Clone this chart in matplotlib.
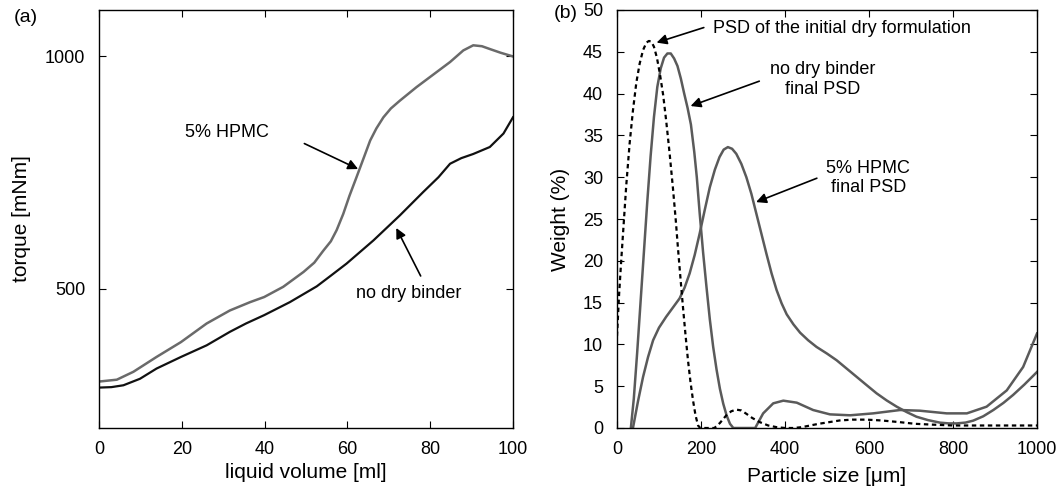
import matplotlib
matplotlib.use("Agg")
import matplotlib.pyplot as plt

plt.rcParams['font.family'] = ['Liberation Sans', 'DejaVu Sans']

# ---------------- Panel (a) data ----------------
vol_binder = [0, 3, 5.9, 9.9, 13.9, 19.8, 26, 31.6, 35.5, 39.9, 46.1, 52.6, 56, 59.8, 66.3, 72.7, 78.3, 82, 84.8, 87.5, 90.4, 94.4, 97.7, 100]
torque_binder = [287, 288, 292, 306, 328, 353, 378, 407, 425, 443, 471, 505, 528, 554, 604, 658, 708, 740, 769, 781, 790, 805, 834, 869]

vol_hpmc = [0, 4.3, 8.3, 13.9, 19.8, 26, 31.6, 36.5, 39.9, 44.5, 49.4, 52, 54.2, 56, 57.4, 59, 60.5, 62.2, 64, 65.5, 67,
            68.7, 70.5, 72.7, 76.7, 80, 84.8, 88, 90.4, 92.5, 94.4, 97, 100]
torque_hpmc = [300, 304, 321, 353, 385, 425, 453, 471, 482, 504, 536, 556, 582, 602, 626, 661, 700, 740, 783, 819, 845,
               869, 888, 905, 934, 956, 988, 1013, 1024, 1022, 1016, 1008, 1000]

# ---------------- Panel (b) data ----------------
size_init = [0, 5, 10, 16, 22, 30, 38, 46, 54, 62, 70, 76, 82, 88, 95, 102, 110, 117, 125, 133, 140, 145, 151, 157, 163,
             169, 175, 181, 187, 193, 198, 232, 245, 260, 272, 284, 296, 308, 322, 340, 360, 380, 400, 420, 440, 460,
             480, 505, 530, 560, 594, 630, 673, 710, 752, 800, 850, 900, 950, 1000]
weight_init = [11, 16, 20, 24.5, 29, 34, 38, 41.3, 43.6, 45.2, 46.1, 46.3, 46.2, 45.6, 44.3, 42.4, 39.8, 36.8, 33, 28.8,
               24.8, 21.6, 18, 14.5, 11.2, 8.1, 5.5, 3.3, 1.5, 0.3, 0, 0, 0.6, 1.5, 2.0, 2.2, 2.1, 1.7, 1.2, 0.7, 0.3,
               0.1, 0, 0, 0.1, 0.3, 0.5, 0.7, 0.9, 1.0, 1.0, 0.9, 0.7, 0.5, 0.4, 0.3, 0.3, 0.3, 0.3, 0.3]

size_nobinder = [33, 40, 48, 56, 64, 72, 80, 88, 96, 104, 112, 120, 128, 136, 144, 152, 160, 168, 176, 184, 190, 197, 205,
                 213, 221, 229, 237, 245, 253, 261, 269, 277, 329, 348, 372, 396, 428, 467, 507, 555, 610, 674, 721, 785,
                 833, 880, 928, 967, 1000]
weight_nobinder = [0, 3.5, 9, 15, 21, 27, 32.5, 37.2, 40.8, 43, 44.3, 44.8, 44.8, 44.2, 43.3, 41.8, 40, 38.3, 36.3, 33,
                   30, 25.6, 21, 16.9, 13, 9.7, 7, 4.7, 2.9, 1.5, 0.5, 0, 0, 1.75, 2.95, 3.27, 3.03, 2.15, 1.63, 1.52,
                   1.75, 2.15, 2.07, 1.75, 1.75, 2.55, 4.5, 7.3, 11.3]

size_hpmc = [38, 50, 62, 74, 86, 100, 117, 133, 149, 161, 173, 185, 197, 209, 221, 233, 244, 254, 264, 274, 284, 296, 308,
             320, 332, 344, 356, 368, 380, 392, 404, 420, 436, 455, 475, 500, 523, 547, 571, 595, 618, 642, 666, 690,
             713, 740, 769, 790, 809, 830, 848, 872, 896, 920, 943, 970, 1000]
weight_hpmc = [0, 3.2, 6.1, 8.5, 10.5, 12, 13.3, 14.4, 15.5, 16.8, 18.5, 20.7, 23.3, 26.1, 28.8, 30.9, 32.4, 33.3, 33.6,
               33.4, 32.8, 31.6, 30, 28, 25.6, 23.2, 20.8, 18.5, 16.5, 14.9, 13.6, 12.4, 11.4, 10.5, 9.7, 8.9, 8.1, 7.1,
               6.1, 5.1, 4.15, 3.3, 2.55, 1.9, 1.35, 0.95, 0.64, 0.55, 0.55, 0.65, 0.88, 1.4, 2.15, 3.0, 3.95, 5.2, 6.7]

a_xticks = [0, 20, 40, 60, 80, 100]
a_yticks = [500, 1000]
b_xticks = [0, 200, 400, 600, 800, 1000]
b_yticks = [0, 5, 10, 15, 20, 25, 30, 35, 40, 45, 50]

W, H = 1059, 492
fig = plt.figure(figsize=(W / 100, H / 100), dpi=100)

def px_axes(l, r, t, b):
    return fig.add_axes([l / W, 1 - b / H, (r - l) / W, (b - t) / H])

ax1 = px_axes(99, 513, 10, 428)
ax2 = px_axes(617, 1037, 10, 428)

FS_TICK = 13
FS_LAB = 15
FS_ANN = 13

for ax in (ax1, ax2):
    ax.tick_params(direction='in', top=True, right=True, length=5, width=0.8,
                   labelsize=FS_TICK)
    ax.tick_params(axis='y', pad=10)
    ax.tick_params(axis='x', pad=9)
    for s in ax.spines.values():
        s.set_linewidth(1.0)

arrow = dict(arrowstyle='-|>', color='black', lw=1.2, mutation_scale=15)

# Panel (a)
ax1.plot(vol_hpmc, torque_hpmc, color='#6a6a6a', lw=1.8)
ax1.plot(vol_binder, torque_binder, color='#111111', lw=1.6)
ax1.set_xlim(0, 100)
ax1.set_ylim(200, 1100)
ax1.set_xticks(a_xticks)
ax1.set_yticks(a_yticks)
ax1.set_xlabel('liquid volume [ml]', fontsize=FS_LAB, va='center')
ax1.set_ylabel('torque [mNm]', fontsize=FS_LAB, va='center')
ax1.xaxis.set_label_coords(0.5, (428 - 473) / 418)
ax1.yaxis.set_label_coords((22 - 99) / 414, 0.5)
ax1.annotate('', xy=(63.2, 755), xytext=(49, 815), arrowprops=arrow)
ax1.text(31, 837, '5% HPMC', fontsize=FS_ANN, ha='center', va='center')
ax1.annotate('', xy=(71.5, 636), xytext=(78, 522), arrowprops=arrow)
ax1.text(74.7, 490, 'no dry binder', fontsize=FS_ANN, ha='center', va='center')
fig.text(26 / W, 1 - 18 / H, '(a)', fontsize=FS_ANN + 1, ha='center', va='center')

# Panel (b)
ax2.plot(size_hpmc, weight_hpmc, color='#5a5a5a', lw=1.8)
ax2.plot(size_nobinder, weight_nobinder, color='#5a5a5a', lw=1.8)
ax2.plot(size_init, weight_init, color='black', lw=1.6, linestyle=(0, (2, 1.6)))
ax2.set_xlim(0, 1000)
ax2.set_ylim(0, 50)
ax2.set_xticks(b_xticks)
ax2.set_yticks(b_yticks)
ax2.set_xlabel('Particle size [\u03bcm]', fontsize=FS_LAB, va='center')
ax2.set_ylabel('Weight (%)', fontsize=FS_LAB, va='center')
ax2.xaxis.set_label_coords(0.5, (428 - 477) / 418)
ax2.yaxis.set_label_coords((561 - 617) / 420, 0.5)
ax2.annotate('', xy=(88, 46), xytext=(213, 48), arrowprops=arrow)
ax2.text(229, 47.8, 'PSD of the initial dry formulation', fontsize=FS_ANN, ha='left', va='center')
ax2.annotate('', xy=(169, 38.4), xytext=(345, 41.6), arrowprops=arrow)
ax2.text(490, 41.7, 'no dry binder\nfinal PSD', fontsize=FS_ANN, ha='center', va='center', linespacing=1.2)
ax2.annotate('', xy=(325, 26.9), xytext=(482, 30), arrowprops=arrow)
ax2.text(598, 29.9, '5% HPMC\nfinal PSD', fontsize=FS_ANN, ha='center', va='center', linespacing=1.2)
fig.text(566 / W, 1 - 14 / H, '(b)', fontsize=FS_ANN + 1, ha='center', va='center')

fig.savefig('out.png', dpi=100)
